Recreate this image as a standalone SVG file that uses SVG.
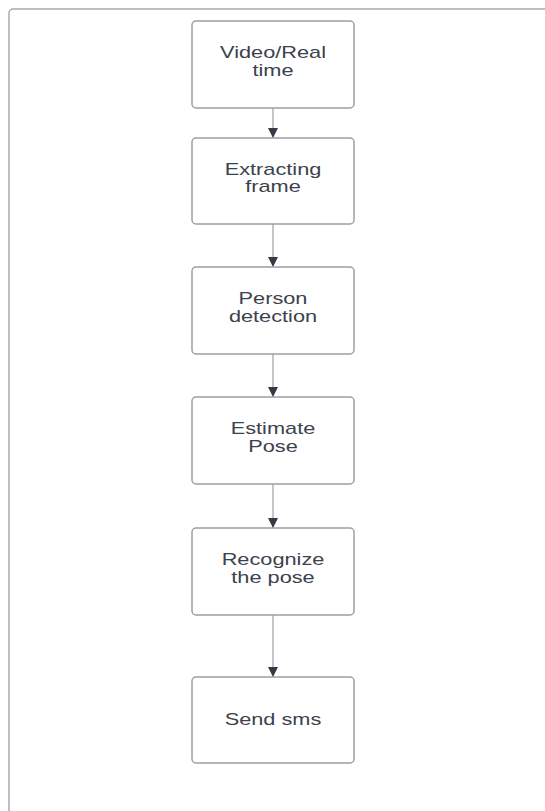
<svg xmlns="http://www.w3.org/2000/svg" width="545" height="811" viewBox="0 0 545 811">
<style>
.frame{fill:#ffffff;stroke:#a8aaae;stroke-width:1.5}
.box{fill:#ffffff;stroke:#9c9fa4;stroke-width:1.5}
.lbl{font-family:"Liberation Sans",Arial,sans-serif;font-size:16px;fill:#3b424c;text-anchor:middle}
.edge{stroke:#9c9fa4;stroke-width:1.2;fill:none}
</style>
<defs>
<marker id="ah" markerWidth="10" markerHeight="10" refX="10" refY="5" orient="auto" markerUnits="userSpaceOnUse">
<path d="M0,0 L10,5 L0,10 Z" fill="#343b46"/>
</marker>
</defs>
<rect width="545" height="811" fill="#ffffff"/>
<rect class="frame" x="9" y="9" width="570" height="840" rx="4"/>
<g id="connectors">
<line class="edge" x1="273" y1="108" x2="273" y2="138" marker-end="url(#ah)"/>
<line class="edge" x1="273" y1="224" x2="273" y2="267" marker-end="url(#ah)"/>
<line class="edge" x1="273" y1="354" x2="273" y2="397" marker-end="url(#ah)"/>
<line class="edge" x1="273" y1="484" x2="273" y2="528" marker-end="url(#ah)"/>
<line class="edge" x1="273" y1="615" x2="273" y2="677" marker-end="url(#ah)"/>
</g>
<g id="n1">
<rect class="box" x="192" y="21" width="162" height="87" rx="4"/>
<g transform="translate(273,0) scale(1.36,1)"><text class="lbl" x="0" y="58.5">Video/Real</text><text class="lbl" x="0" y="76">time</text></g>
</g>
<g id="n2">
<rect class="box" x="192" y="138" width="162" height="86" rx="4"/>
<g transform="translate(273,0) scale(1.36,1)"><text class="lbl" x="0" y="175">Extracting</text><text class="lbl" x="0" y="192.5">frame</text></g>
</g>
<g id="n3">
<rect class="box" x="192" y="267" width="162" height="87" rx="4"/>
<g transform="translate(273,0) scale(1.36,1)"><text class="lbl" x="0" y="304.5">Person</text><text class="lbl" x="0" y="322">detection</text></g>
</g>
<g id="n4">
<rect class="box" x="192" y="397" width="162" height="87" rx="4"/>
<g transform="translate(273,0) scale(1.36,1)"><text class="lbl" x="0" y="434.5">Estimate</text><text class="lbl" x="0" y="452">Pose</text></g>
</g>
<g id="n5">
<rect class="box" x="192" y="528" width="162" height="87" rx="4"/>
<g transform="translate(273,0) scale(1.36,1)"><text class="lbl" x="0" y="565.5">Recognize</text><text class="lbl" x="0" y="583">the pose</text></g>
</g>
<g id="n6">
<rect class="box" x="192" y="677" width="162" height="86" rx="4"/>
<g transform="translate(273,0) scale(1.36,1)"><text class="lbl" x="0" y="725.5">Send sms</text></g>
</g>
</svg>
